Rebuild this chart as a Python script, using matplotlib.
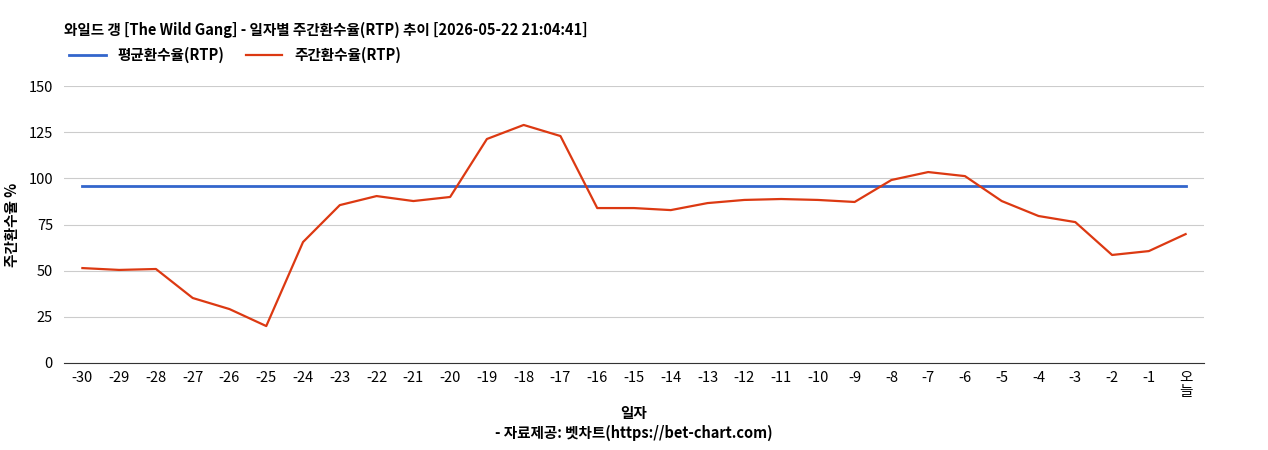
import matplotlib
matplotlib.use("Agg")
import matplotlib.pyplot as plt

plt.rcParams['font.family'] = ['Noto Sans CJK KR', 'DejaVu Sans']

categories = [str(i) for i in range(-30, 0)] + ["오\n늘"]
weekly_rtp = [51.4, 50.4, 50.9, 35.2, 29.2, 20.0, 65.5, 85.5, 90.4, 87.7, 89.9,
              121.3, 128.9, 122.9, 83.9, 83.9, 82.8, 86.6, 88.3, 88.8, 88.3, 87.2,
              99.1, 103.4, 101.2, 87.7, 79.6, 76.3, 58.5, 60.6, 69.8]
avg_rtp = [95.8] * len(categories)
yticks = [0, 25, 50, 75, 100, 125, 150]

fig = plt.figure(figsize=(12.68, 4.5), dpi=100)
ax = fig.add_axes([64/1268, 1-363/450, 1140/1268, 277/450])
x = list(range(len(categories)))
ax.plot(x, avg_rtp, color='#3366cc', lw=2, label='평균환수율(RTP)')
ax.plot(x, weekly_rtp, color='#dc3912', lw=1.6, label='주간환수율(RTP)')
ax.set_xlim(-0.5, len(categories) - 0.5)
ax.set_ylim(0, 150)
ax.set_yticks(yticks)
ax.set_xticks(x)
ax.set_xticklabels(categories, fontsize=10.5, linespacing=1.0, va='top')
ax.tick_params(axis='y', labelsize=10.5, length=0, pad=8)
ax.tick_params(axis='x', length=0, pad=6)
ax.grid(axis='y', color='#cccccc', lw=0.8)
for s in ['top', 'right', 'left']:
    ax.spines[s].set_visible(False)
ax.spines['bottom'].set_color('#333333')
ax.set_axisbelow(True)
ax.set_ylabel('주간환수율 %', fontsize=10.5, fontweight='bold', labelpad=6)
ax.set_xlabel('일자\n- 자료제공: 벳차트(https://bet-chart.com)', fontsize=10.5,
              fontweight='bold', labelpad=4, linespacing=1.3)
fig.text(64/1268, 1-30/450, '와일드 갱 [The Wild Gang] - 일자별 주간환수율(RTP) 추이 [2026-05-22 21:04:41]',
         fontsize=10.5, fontweight='bold', va='center')
fig.legend(loc='center left', bbox_to_anchor=(56/1268, 1-55/450), ncol=2, frameon=False,
           prop={'size': 10.5, 'weight': 'bold'}, handlelength=2.5, columnspacing=1.5)
fig.savefig('out.png', dpi=100)
